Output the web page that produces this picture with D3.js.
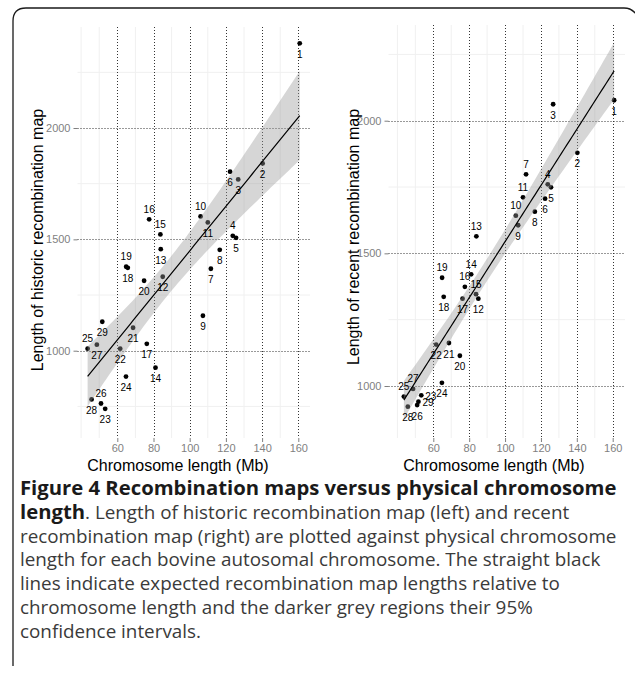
<!DOCTYPE html>
<html lang="en">
<head>
<meta charset="utf-8">
<title>Figure 4 Recombination maps versus physical chromosome length</title>
<style>
  body { margin: 0; background: white; }
  svg { display: block; }
  .tick-label { font-family: "Liberation Sans", Arial, sans-serif; font-size: 11px; fill: #7f7f7f; }
  .axis-title { font-family: "Liberation Sans", Arial, sans-serif; font-size: 16px; fill: black; }
  .pt-label { font-family: "Liberation Sans", Arial, sans-serif; font-size: 10px; fill: black; }
  .caption { font-family: "Open Sans", sans-serif; }
</style>
</head>
<body>
<svg id="fig" width="635" height="675"></svg>
<script src="https://cdn.jsdelivr.net/npm/d3@7/dist/d3.min.js"></script>
<script>

// bovine autosomes 1..29
var chromosomes = d3.range(1, 30)

// physical length (Mb)
var chromLength = [160.8, 140.3, 126.8, 123.8, 125.6, 122.3, 111.7, 116.6, 107.3, 106.0,
                   110.0, 85.1, 84.0, 81.1, 83.8, 77.6, 76.3, 65.8, 64.9, 74.8,
                   68.7, 61.6, 53.3, 64.8, 43.6, 51.0, 48.7, 45.8, 51.7]

// length of historic recombination map (left panel)
var historicMap = [2380, 1841, 1769, 1516, 1507, 1804, 1368, 1453, 1157, 1603,
                   1576, 1332, 1456, 924, 1522, 1590, 1031, 1372, 1377, 1314,
                   1103, 1009, 739, 884, 1009, 763, 1027, 781, 1130]

// length of recent recombination map (right panel)
var recentMap = [2077, 1879, 2062, 1760, 1749, 1706, 1798, 1657, 1606, 1642,
                 1711, 1329, 1564, 1421, 1346, 1374, 1329, 1336, 1408, 1114,
                 1162, 1156, 965, 1012, 960, 928, 989, 922, 941]

var xTicks = [60, 80, 100, 120, 140, 160]
var xMinor = [40, 50, 70, 90, 110, 130, 150]
var yTicks = [1000, 1500, 2000]
var yMinor = [750, 1250, 1750, 2250]

// where each chromosome number sits relative to its dot: a = above, b = below, r = right
var historicLabelSide = ["b","b","b","a","b","b","b","b","b","a",
                         "b","b","b","b","a","a","b","b","a","b",
                         "b","b","b","b","a","a","b","b","b"]
var recentLabelSide = ["b","b","b","a","b","b","a","b","b","a",
                       "a","b","a","a","a","a","b","b","a","b",
                       "b","b","r","b","a","b","a","b","r"]

var captionLines = [
  [["Figure 4 Recombination maps versus physical chromosome", true]],
  [["length", true], [". Length of historic recombination map (left) and recent", false]],
  [["recombination map (right) are plotted against physical chromosome", false]],
  [["length for each bovine autosomal chromosome. The straight black", false]],
  [["lines indicate expected recombination map lengths relative to", false]],
  [["chromosome length and the darker grey regions their 95%", false]],
  [["confidence intervals.", false]]
]

var svg = d3.select("#fig")

svg.append("rect").attr("width", 635).attr("height", 675).attr("fill", "white")

// figure frame (only top and left edges are visible in the page)
svg.append("path")
  .attr("d", "M13,666 L13,21 Q13,8 26,8 L624,8 Q633,8 638,17")
  .attr("fill", "none")
  .attr("stroke", "#1a1a1a")
  .attr("stroke-width", 1.3)


function linearFit(xs, ys){
  // ordinary least squares with a 95% confidence band, like geom_smooth(method = "lm")
  var n = xs.length
  var xbar = d3.mean(xs), ybar = d3.mean(ys)
  var sxx = 0, sxy = 0
  xs.forEach(function(x, i){
    sxx += (x - xbar) * (x - xbar)
    sxy += (x - xbar) * (ys[i] - ybar)
  })
  var slope = sxy / sxx
  var intercept = ybar - slope * xbar
  var sse = 0
  xs.forEach(function(x, i){
    var r = ys[i] - (intercept + slope * x)
    sse += r * r
  })
  var s = Math.sqrt(sse / (n - 2))
  var t = 2.0518 // qt(0.975, 27)
  var ext = d3.extent(xs)
  var grid = d3.range(0, 81).map(function(k){ return ext[0] + (ext[1] - ext[0]) * k / 80 })
  return grid.map(function(x){
    var fit = intercept + slope * x
    var se = s * Math.sqrt(1 / n + (x - xbar) * (x - xbar) / sxx)
    return {x: x, y: fit, lo: fit - t * se, hi: fit + t * se}
  })
}


function drawPanel(p){
  var xScale = d3.scaleLinear().domain([60, 160]).range(p.xRange)
  var yScale = d3.scaleLinear().domain([1000, 2000]).range(p.yRange)
  var box = p.box

  var g = svg.append("g")

  g.append("clipPath").attr("id", p.id + "-clip")
    .append("rect")
      .attr("x", box.left).attr("y", box.top)
      .attr("width", box.right - box.left).attr("height", box.bottom - box.top)

  // minor grid
  g.selectAll(".minor-x").data(xMinor).enter().append("line")
    .attr("x1", function(d){ return xScale(d) }).attr("x2", function(d){ return xScale(d) })
    .attr("y1", box.top).attr("y2", box.bottom)
    .attr("stroke", "#f0f0f0").attr("stroke-width", 1)
  g.selectAll(".minor-y").data(yMinor.filter(function(d){
      return yScale(d) > box.top && yScale(d) < box.bottom })).enter().append("line")
    .attr("y1", function(d){ return yScale(d) }).attr("y2", function(d){ return yScale(d) })
    .attr("x1", box.left).attr("x2", box.right)
    .attr("stroke", "#f0f0f0").attr("stroke-width", 1)

  // major grid, dotted
  g.selectAll(".major-x").data(xTicks).enter().append("line")
    .attr("x1", function(d){ return Math.round(xScale(d)) + 0.5 })
    .attr("x2", function(d){ return Math.round(xScale(d)) + 0.5 })
    .attr("y1", box.top).attr("y2", box.bottom)
    .attr("stroke", "#333").attr("stroke-width", 1).attr("stroke-dasharray", "1 2")
  g.selectAll(".major-y").data(yTicks).enter().append("line")
    .attr("y1", function(d){ return Math.round(yScale(d)) + 0.5 })
    .attr("y2", function(d){ return Math.round(yScale(d)) + 0.5 })
    .attr("x1", box.left).attr("x2", box.right)
    .attr("stroke", "#333").attr("stroke-width", 1).attr("stroke-dasharray", "1 2")

  // axes: grey ticks and labels, no axis line
  var xAxis = g.append("g")
    .attr("transform", "translate(0," + box.bottom + ")")
    .call(d3.axisBottom(xScale).tickValues(xTicks).tickFormat(d3.format("d"))
      .tickSize(4).tickPadding(2))
  var yAxis = g.append("g")
    .attr("transform", "translate(" + box.left + ",0)")
    .call(d3.axisLeft(yScale).tickValues(yTicks).tickFormat(d3.format("d"))
      .tickSize(4).tickPadding(3))
  ;[xAxis, yAxis].forEach(function(ax){
    ax.select(".domain").remove()
    ax.selectAll("line").attr("stroke", "#7f7f7f")
    ax.selectAll("text").attr("class", "tick-label").attr("fill", null)
    ax.attr("font-size", null).attr("font-family", null)
  })

  // points
  g.selectAll(".dot").data(p.values).enter().append("circle")
    .attr("cx", function(d, i){ return xScale(chromLength[i]) })
    .attr("cy", function(d){ return yScale(d) })
    .attr("r", 2.4)
    .attr("fill", "black")

  // fitted line and confidence band drawn over the points
  var fit = linearFit(chromLength, p.values)
  g.append("path").datum(fit)
    .attr("clip-path", "url(#" + p.id + "-clip)")
    .attr("d", d3.area()
      .x(function(d){ return xScale(d.x) })
      .y0(function(d){ return yScale(d.lo) })
      .y1(function(d){ return yScale(d.hi) }))
    .attr("fill", "#999999").attr("fill-opacity", 0.4)
  g.append("path").datum(fit)
    .attr("d", d3.line()
      .x(function(d){ return xScale(d.x) })
      .y(function(d){ return yScale(d.y) }))
    .attr("fill", "none").attr("stroke", "black").attr("stroke-width", 1.2)

  // chromosome numbers
  g.selectAll(".pt-label").data(p.values).enter().append("text")
    .attr("class", "pt-label")
    .attr("text-anchor", function(d, i){ return p.sides[i] == "r" ? "start" : "middle" })
    .attr("dominant-baseline", "central")
    .attr("x", function(d, i){
      return xScale(chromLength[i]) + (p.sides[i] == "r" ? 4 : 0) })
    .attr("y", function(d, i){
      var side = p.sides[i]
      var dy = side == "a" ? -10 : side == "b" ? 11 : 1
      return yScale(d) + dy })
    .text(function(d, i){ return chromosomes[i] })

  // axis titles
  g.append("text").attr("class", "axis-title")
    .attr("text-anchor", "middle")
    .attr("x", p.xTitleX).attr("y", 471)
    .text("Chromosome length (Mb)")
  g.append("text").attr("class", "axis-title")
    .attr("text-anchor", "middle")
    .attr("transform", "translate(" + p.yTitleX + "," + p.yTitleY + ") rotate(-90)")
    .attr("dy", "0.35em")
    .text(p.yTitle)
}

drawPanel({
  id: "historic",
  values: historicMap,
  sides: historicLabelSide,
  xRange: [117.3, 298.3],
  yRange: [350.7, 128],
  box: {left: 77.5, right: 310, top: 27, bottom: 438},
  xTitleX: 178, yTitleX: 37, yTitleY: 240,
  yTitle: "Length of historic recombination map"
})

drawPanel({
  id: "recent",
  values: recentMap,
  sides: recentLabelSide,
  xRange: [433.3, 612.7],
  yRange: [386, 120.7],
  box: {left: 388.5, right: 625, top: 25, bottom: 438},
  xTitleX: 494, yTitleX: 353, yTitleY: 237,
  yTitle: "Length of recent recombination map"
})


// caption
var cap = svg.append("g").attr("class", "caption")
var capLines = cap.selectAll("text").data(captionLines).enter().append("text")
  .attr("x", 20)
  .attr("y", function(d, i){ return 495 + i * 23.8 })

capLines.selectAll("tspan").data(function(d){ return d }).enter().append("tspan")
  .attr("font-weight", function(d){ return d[1] ? "bold" : "normal" })
  .attr("fill", function(d){ return d[1] ? "#1a1a1a" : "#3a3a3a" })
  .attr("font-size", 18)
  .text(function(d){ return d[0] })

// fit the two full-width lines to the column width of the original page
var colWidth = 597
var boldLine = capLines.filter(function(d, i){ return i == 0 }).node()
var boldSize = 18 * colWidth / boldLine.getComputedTextLength()
var plainLine = capLines.filter(function(d, i){ return i == 2 }).node()
var plainSize = 18 * colWidth / plainLine.getComputedTextLength()
capLines.selectAll("tspan")
  .attr("font-size", function(d){ return d[1] ? boldSize : plainSize })

</script>
</body>
</html>
